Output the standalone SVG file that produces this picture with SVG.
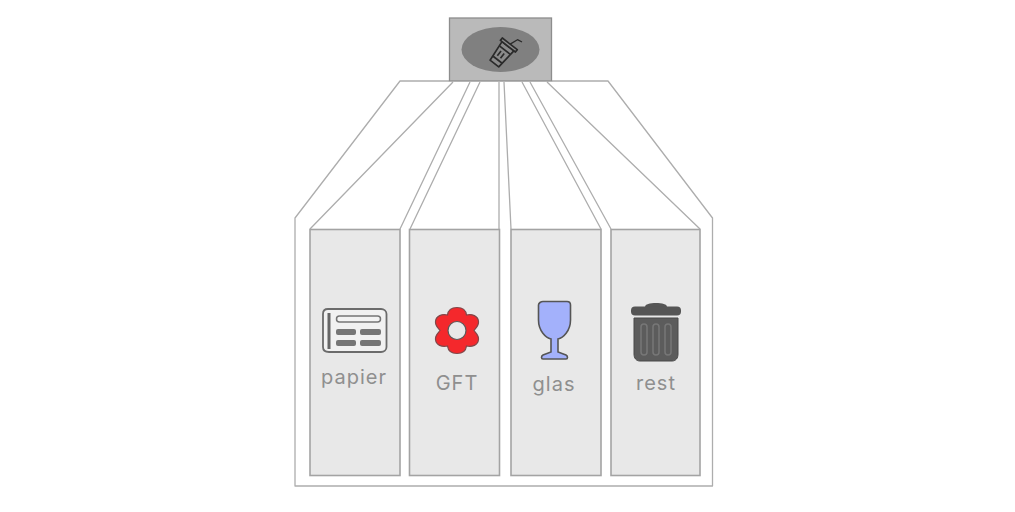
<svg xmlns="http://www.w3.org/2000/svg" width="1015" height="512" viewBox="0 0 1015 512">
<style>
.wall{fill:none;stroke:#adadad;stroke-width:1.300;stroke-linejoin:round}
.bin{fill:#e8e8e8;stroke:#a3a3a3;stroke-width:1.600}
.lbl{font-family:"Inter","Liberation Sans",sans-serif;font-size:20px;fill:#8f8f8f;text-anchor:middle;letter-spacing:1px}
</style>
<rect width="1015" height="512" fill="#fff"/>
<g id="connectors">
<path class="wall" d="M449 81H400L295 218V486H712.500V218L608 81H552"/>
<path class="wall" d="M453 82L310 229M470 82L400 229M480 82L410 229M499 82V229M504 82L511 229M522 82L601 229M530 82L611 229M547 82L700 229"/>
</g>
<g id="inlet">
<rect x="449.500" y="18" width="102" height="63" fill="#bababa" stroke="#8d8d8d" stroke-width="1.300"/>
<ellipse cx="500.500" cy="49.500" rx="39" ry="22.500" fill="#808080"/>
<g transform="rotate(38 502 53)" fill="#8a8a8a" stroke="#2a2a2a" stroke-width="1.700" stroke-linejoin="round">
<path d="M495 44H510L508 66H497Z"/>
<path d="M493 44V41H512V44Z"/>
<path d="M496 49H509M497 61H508M500 52V58M504 52V58" fill="none"/>
<path d="M503 41L506 33L511 32" fill="none" stroke-width="1.300"/>
</g>
</g>
<g id="bin-papier">
<rect class="bin" x="310" y="229.500" width="90" height="246"/>
<path d="M328 309H381C384 309 386.500 311 386.500 314V347C386.500 350 384 352 381 352H329C325 352 323 350 323 347V314C323 311 325 309 328 309Z" fill="#f1f1f1" stroke="#6b6b6b" stroke-width="1.800"/>
<rect x="327.500" y="313" width="3" height="36" fill="#666"/>
<rect x="336.500" y="316" width="44" height="6" rx="3" fill="#f3f3f3" stroke="#757575" stroke-width="1.500"/>
<rect x="336" y="329" width="20" height="6" rx="2" fill="#767676"/>
<rect x="360" y="329" width="21" height="6" rx="2" fill="#767676"/>
<rect x="336" y="340" width="20" height="6" rx="2" fill="#767676"/>
<rect x="360" y="340" width="21" height="6" rx="2" fill="#767676"/>
<text class="lbl" x="354" y="384">papier</text>
</g>
<g id="bin-gft">
<rect class="bin" x="409.500" y="229.500" width="90" height="246"/>
<path d="M457 307.500C463 307.500 466 311 466.500 315C472 313.500 478 316 478.500 321.500C479 325.500 476 328 474 330.500C476 333 479 335.500 478.500 339.500C478 345 472 347.500 466.500 346C466 350 463 353.500 457 353.500C451 353.500 448 350 447.500 346C442 347.500 436 345 435.500 339.500C435 335.500 438 333 440 330.500C438 328 435 325.500 435.500 321.500C436 316 442 313.500 447.500 315C448 311 451 307.500 457 307.500Z" fill="#f4282c" stroke="#80484a" stroke-width="1.200"/>
<circle cx="457" cy="330.500" r="9" fill="#e8e8e8" stroke="#5a5a5a" stroke-width="1.200"/>
<text class="lbl" x="457" y="390">GFT</text>
</g>
<g id="bin-glas">
<rect class="bin" x="511" y="229.500" width="90" height="246"/>
<path d="M543 301.500H567C569 301.500 570.500 303 570.500 305V320C570.500 331 563 338 558 339V352L566 355C568 356 568 359 566 359H543C541 359 541 356 543 355L551 352V339C546 338 538.500 331 538.500 320V305C538.500 303 541 301.500 543 301.500Z" fill="#a3b1fb" stroke="#555" stroke-width="1.600"/>
<text class="lbl" x="554" y="391">glas</text>
</g>
<g id="bin-rest">
<rect class="bin" x="611" y="229.500" width="89" height="246"/>
<path d="M645 307C645 304 650 303 656 303C662 303 667 304 667 307Z" fill="#555"/>
<rect x="631" y="306.500" width="50" height="9" rx="4" fill="#555"/>
<path d="M634 318H678V354C678 358 676 361 672 361H640C636 361 634 358 634 354Z" fill="#5c5c5c" stroke="#484848"/>
<g fill="none" stroke="#777" stroke-width="1.500">
<rect x="641" y="324" width="6" height="31" rx="3"/>
<rect x="653" y="324" width="6" height="31" rx="3"/>
<rect x="665" y="324" width="6" height="31" rx="3"/>
</g>
<text class="lbl" x="656" y="390">rest</text>
</g>
</svg>
